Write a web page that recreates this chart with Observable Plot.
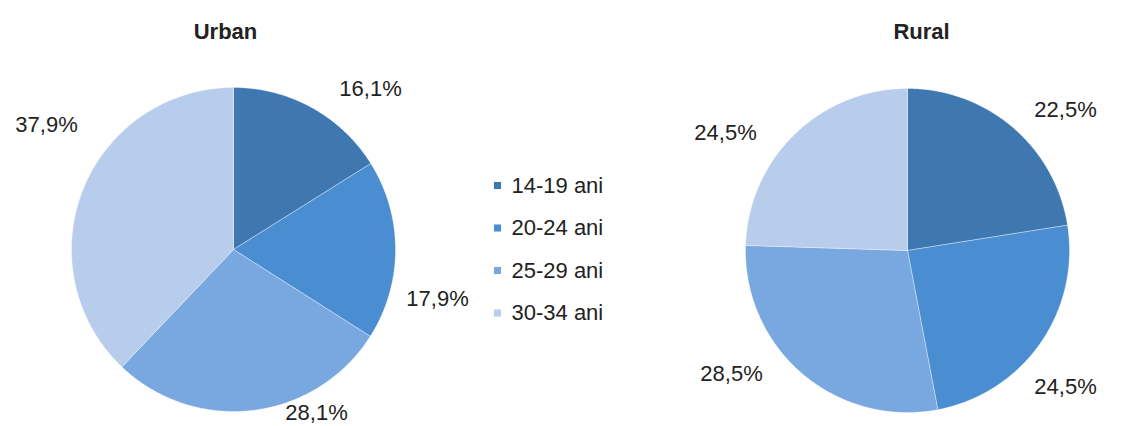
<!DOCTYPE html>
<html><head><meta charset="utf-8">
<script src="https://cdn.jsdelivr.net/npm/d3@7"></script>
<script src="https://cdn.jsdelivr.net/npm/@observablehq/plot@0.6"></script>
<style>html,body{margin:0;padding:0;background:#fff;}</style>
</head><body><div id="chart"></div>
<script>
// ---- data ----
const categories = ["14-19 ani", "20-24 ani", "25-29 ani", "30-34 ani"];
const urbanValues = [16.1, 17.9, 28.1, 37.9];
const ruralValues = [22.5, 24.5, 28.5, 24.5];
const pieTitles = ["Urban", "Rural"];
const colors = ["#3f77b1", "#4a8dd1", "#79a7df", "#b8ccec"];

// ---- layout ----
const W = 1133, H = 426;
const layout = [
  {cx: 233, cy: 249, r: 162, tx: 225, ty: 31,
   labelOffsets: [[137, -161], [204, 49], [83, 163], [-187, -125]]},
  {cx: 907, cy: 250, r: 162, tx: 921, ty: 31,
   labelOffsets: [[158, -141], [158, 136], [-176, 123], [-182, -118]]}
];
const legendX = 497, legendY0 = 185, legendStep = 42.5;

const fmt = v => v.toFixed(1).replace(".", ",") + "%";
const seriesValues = [urbanValues, ruralValues];

const slicePts = [];
const labels = [];
const titles = [];
seriesValues.forEach((vals, pi) => {
  const L = layout[pi];
  const arcs = d3.pie().sort(null).value(d => d)(vals);
  arcs.forEach((a, i) => {
    const key = pi + "-" + i;
    const n = Math.max(2, Math.ceil((a.endAngle - a.startAngle) / 0.01));
    slicePts.push({key, cat: categories[i], x: L.cx, y: L.cy});
    for (let k = 0; k <= n; k++) {
      const t = a.startAngle + (a.endAngle - a.startAngle) * k / n;
      slicePts.push({key, cat: categories[i], x: L.cx + L.r * Math.sin(t), y: L.cy - L.r * Math.cos(t)});
    }
    slicePts.push({key, cat: categories[i], x: L.cx, y: L.cy});
    labels.push({x: L.cx + L.labelOffsets[i][0], y: L.cy + L.labelOffsets[i][1], text: fmt(vals[i])});
  });
  titles.push({x: L.tx, y: L.ty, text: pieTitles[pi]});
});
const legend = categories.map((c, i) => ({cat: c, x: legendX, y: legendY0 + i * legendStep}));

const chart = Plot.plot({
  width: W, height: H, margin: 0,
  style: {fontFamily: "'Liberation Sans', Arial, sans-serif", background: "#fff"},
  x: {domain: [0, W], range: [0, W], axis: null},
  y: {domain: [0, H], range: [0, H], axis: null},
  color: {domain: categories, range: colors},
  marks: [
    Plot.line(slicePts, {x: "x", y: "y", z: "key", fill: "cat", stroke: "white", strokeOpacity: 0.35, strokeWidth: 1, curve: "linear"}),
    Plot.text(labels, {x: "x", y: "y", text: "text", fontSize: 22, fill: "#222"}),
    Plot.text(titles, {x: "x", y: "y", text: "text", fontSize: 22, fontWeight: "bold", fill: "#222"}),
    Plot.dot(legend, {x: "x", y: "y", symbol: "square", r: 4, fill: "cat", stroke: null}),
    Plot.text(legend, {x: "x", y: "y", dx: 14, text: "cat", textAnchor: "start", fontSize: 22, fill: "#222"})
  ]
});
document.getElementById("chart").appendChild(chart);
</script>
</body></html>
